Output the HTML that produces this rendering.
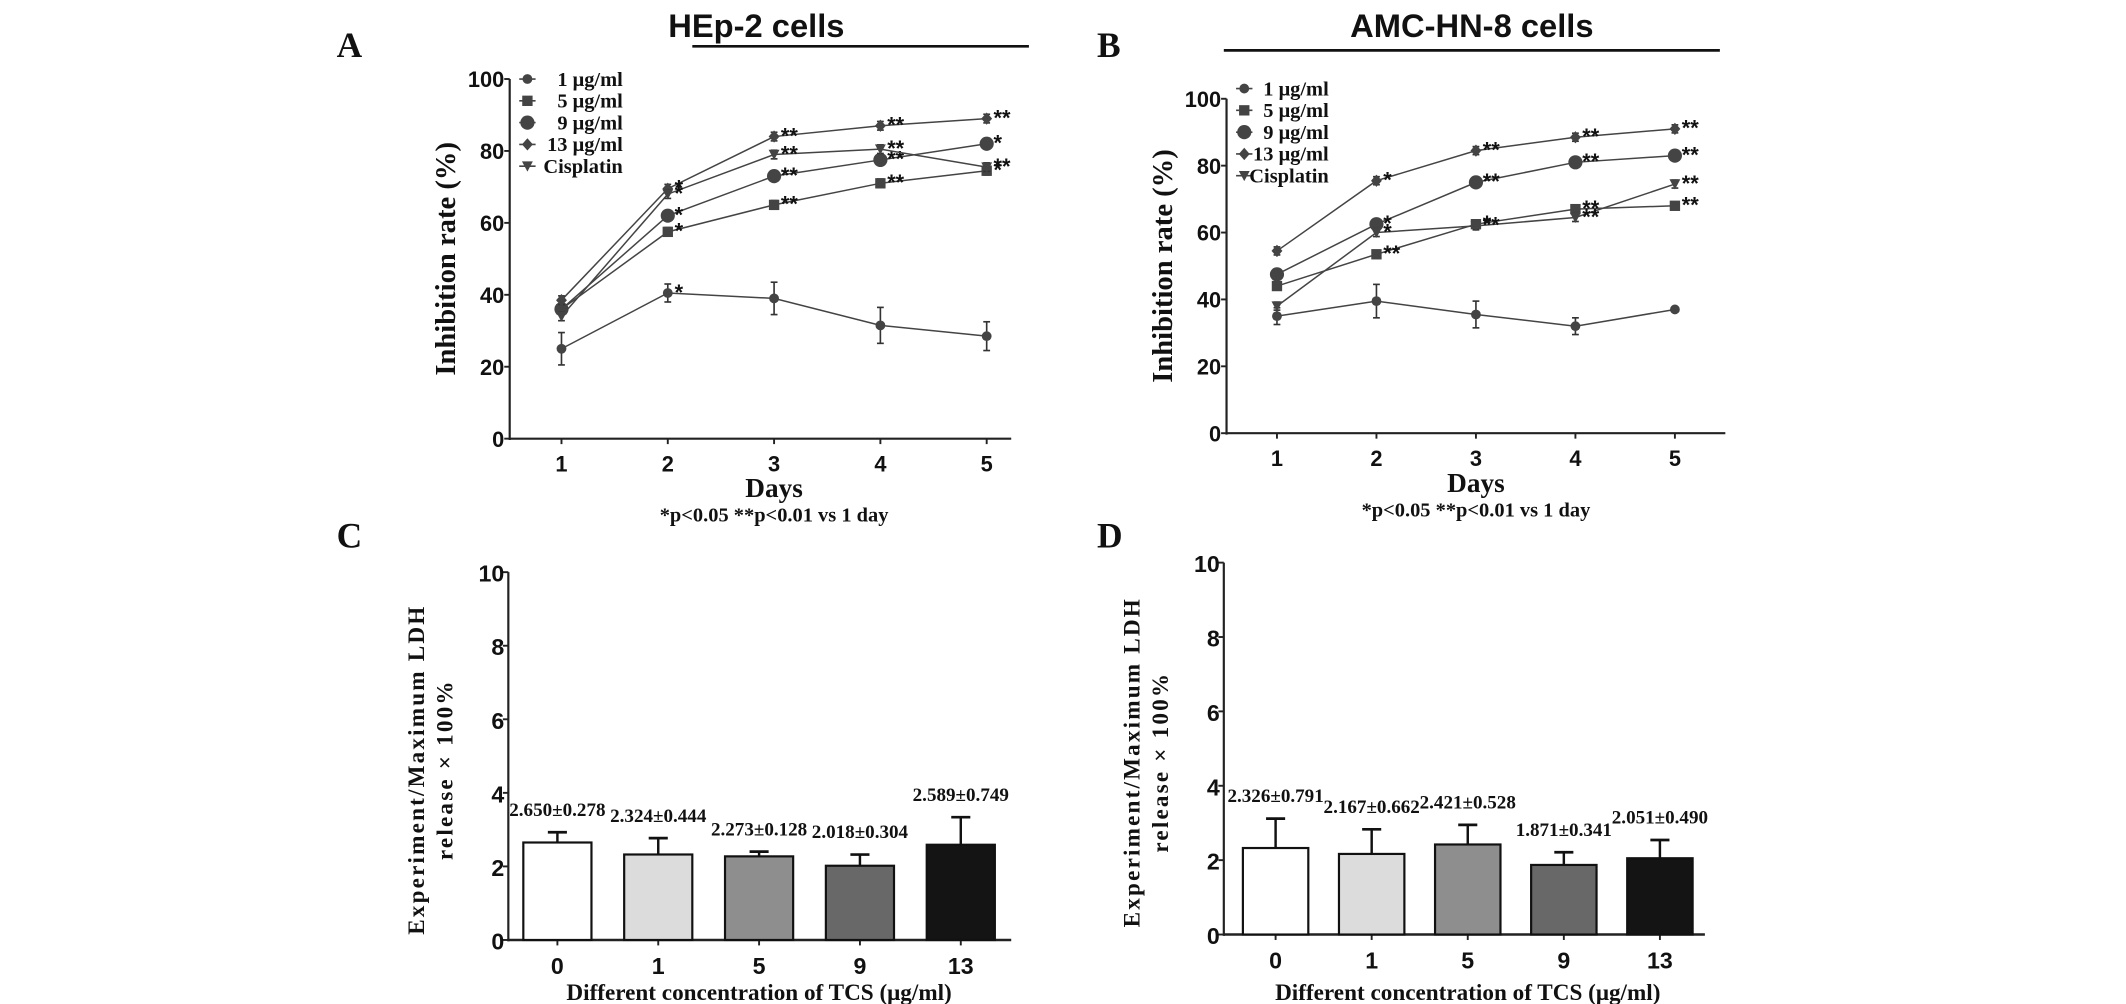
<!DOCTYPE html>
<html><head><meta charset="utf-8">
<style>
html,body{margin:0;padding:0;background:#fff;}
svg{display:block;}
text{font-family:"Liberation Serif",serif;font-weight:bold;fill:#111;}
.sans{font-family:"Liberation Sans",sans-serif;}
</style></head>
<body>
<svg id="fig" width="2126" height="1004" viewBox="0 0 1560 737" preserveAspectRatio="none" xmlns="http://www.w3.org/2000/svg"></svg>
<script>
// ---- Data ----
const days = [1, 2, 3, 4, 5];
const seriesNames = ["1 μg/ml", "5 μg/ml", "9 μg/ml", "13 μg/ml", "Cisplatin"];
const yTicksLine = [0, 20, 40, 60, 80, 100];
// Panel A (HEp-2)
const a1 = [25, 40.5, 39, 31.5, 28.5];
const a1err = [4.5, 2.5, 4.5, 5, 4];
const a5 = [36, 57.5, 65, 71, 74.5];
const a9 = [36, 62, 73, 77.5, 82];
const a13 = [38.5, 69.5, 84, 87, 89];
const aCis = [34, 68, 79, 80.5, 75.5];
const aStars1 = ["", "*", "", "", ""];
const aStars5 = ["", "*", "**", "**", "*"];
const aStars9 = ["", "*", "**", "**", "*"];
const aStars13 = ["", "*", "**", "**", "**"];
const aStarsCis = ["", "*", "**", "**", "**"];
// Panel B (AMC-HN-8)
const b1 = [35, 39.5, 35.5, 32, 37];
const b1err = [2.5, 5, 4, 2.5, 0];
const b5 = [44, 53.5, 62.5, 67, 68];
const b9 = [47.5, 62.5, 75, 81, 83];
const b13 = [54.5, 75.5, 84.5, 88.5, 91];
const bCis = [38, 60, 62, 64.5, 74.5];
const bStars1 = ["", "", "", "", ""];
const bStars5 = ["", "**", "*", "**", "**"];
const bStars9 = ["", "*", "**", "**", "**"];
const bStars13 = ["", "*", "**", "**", "**"];
const bStarsCis = ["", "*", "**", "**", "**"];
// Bars
const concs = ["0", "1", "5", "9", "13"];
const yTicksBar = [0, 2, 4, 6, 8, 10];
const cVals = [2.650, 2.324, 2.273, 2.018, 2.589];
const cErr = [0.278, 0.444, 0.128, 0.304, 0.749];
const dVals = [2.326, 2.167, 2.421, 1.871, 2.051];
const dErr = [0.791, 0.662, 0.528, 0.341, 0.490];
const barFills = ["#ffffff", "#dcdcdc", "#8e8e8e", "#686868", "#141414"];

const svg = document.getElementById('fig');
const NS = "http://www.w3.org/2000/svg";
function mk(tag, attrs, parent) {
  const e = document.createElementNS(NS, tag);
  for (const k in attrs) e.setAttribute(k, attrs[k]);
  (parent || svg).appendChild(e);
  return e;
}
function txt(s, x, y, size, anchor, parent, cls) {
  const t = mk('text', {x: x, y: y, 'font-size': size, 'text-anchor': anchor || 'middle'}, parent);
  if (cls) t.setAttribute('class', cls);
  t.textContent = s;
  return t;
}
function marker(kind, x, y, g) {
  const c = '#444';
  if (kind === 0) return mk('circle', {cx: x, cy: y, r: 3.6, fill: c}, g);
  if (kind === 1) return mk('rect', {x: x - 3.8, y: y - 3.8, width: 7.6, height: 7.6, fill: c}, g);
  if (kind === 2) return mk('circle', {cx: x, cy: y, r: 5.2, fill: c}, g);
  if (kind === 3) return mk('polygon', {points: `${x},${y-4.5} ${x+4},${y} ${x},${y+4.5} ${x-4},${y}`, fill: c}, g);
  return mk('polygon', {points: `${x-4},${y-3.5} ${x+4},${y-3.5} ${x},${y+4}`, fill: c}, g);
}

function linePanel(cfg) {
  const g = mk('g', {});
  
  
  const sx = d => cfg.x1 + (d - 1) * (cfg.x5 - cfg.x1) / 4;
  const sy = v => cfg.y0 - v * (cfg.y0 - cfg.y100) / 100;
  const L = txt(cfg.letter, cfg.letterX, 42, 26, 'start', g);
  
  
  const T = txt(cfg.title, cfg.titleX, 27, 24, 'middle', g, 'sans');
  
  
  T.setAttribute('font-weight', 'normal');
  mk('line', {x1: cfg.lineX1, x2: cfg.lineX2, y1: cfg.lineY, y2: cfg.lineY, stroke: '#111', 'stroke-width': 2}, g);
  const ax = mk('g', {}, g);
  
  
  mk('line', {x1: cfg.ax, x2: cfg.ax, y1: sy(100), y2: sy(0) + 1, stroke: '#222', 'stroke-width': 1.6}, ax);
  mk('line', {x1: cfg.ax, x2: cfg.axEnd, y1: sy(0), y2: sy(0), stroke: '#222', 'stroke-width': 1.6}, ax);
  yTicksLine.forEach(v => {
    mk('line', {x1: cfg.ax - 4, x2: cfg.ax, y1: sy(v), y2: sy(v), stroke: '#222', 'stroke-width': 1.4}, ax);
    const t = txt(String(v), cfg.ax - 4, sy(v) + 6, 16, 'end', ax, 'sans');
    
    
  });
  days.forEach(d => {
    mk('line', {x1: sx(d), x2: sx(d), y1: sy(0), y2: sy(0) + 4, stroke: '#222', 'stroke-width': 1.4}, ax);
    const t = txt(String(d), sx(d), sy(0) + 24, 16, 'middle', ax, 'sans');
    
    
  });
  const yl = txt('Inhibition rate (%)', 0, 0, 21, 'middle', g);
  yl.setAttribute('transform', `translate(${cfg.ax - 40},${(sy(0) + sy(100)) / 2}) rotate(-90)`);
  
  
  const xl = txt('Days', sx(3), sy(0) + 43, 20, 'middle', g);
  
  
  const fn = txt('*p<0.05  **p<0.01 vs 1 day', sx(3), sy(0) + 61, 15, 'middle', g);
  
  
  fn.setAttribute('xml:space', 'preserve');
  cfg.series.forEach((s, i) => {
    const sg = mk('g', {}, g);
    
    
    const pts = s.map((v, j) => sx(days[j]) + ',' + sy(v)).join(' ');
    mk('polyline', {points: pts, fill: 'none', stroke: '#444', 'stroke-width': 1.1}, sg);
    s.forEach((v, j) => {
      const e = cfg.errs[i] ? cfg.errs[i][j] : 1.2;
      if (e > 0) {
        mk('line', {x1: sx(days[j]), x2: sx(days[j]), y1: sy(v - e), y2: sy(v + e), stroke: '#333', 'stroke-width': 1.2}, sg);
        mk('line', {x1: sx(days[j]) - 2.5, x2: sx(days[j]) + 2.5, y1: sy(v - e), y2: sy(v - e), stroke: '#333', 'stroke-width': 1.2}, sg);
        mk('line', {x1: sx(days[j]) - 2.5, x2: sx(days[j]) + 2.5, y1: sy(v + e), y2: sy(v + e), stroke: '#333', 'stroke-width': 1.2}, sg);
      }
      const m = marker(i, sx(days[j]), sy(v), sg);
      
      
      const st = cfg.stars[i][j];
      if (st) txt(st, sx(days[j]) + 5, sy(v) + 5, 16, 'start', sg, 'sans');
    });
  });
  const lg = mk('g', {}, g);
  
  
  seriesNames.forEach((n, i) => {
    const y = cfg.legY + i * 16;
    mk('line', {x1: cfg.legMx - 6, x2: cfg.legMx + 6, y1: y, y2: y, stroke: '#444', 'stroke-width': 1.2}, lg);
    marker(i, cfg.legMx, y, lg);
    const t = txt(n, cfg.legTx, y + 5, 15, 'end', lg);
    
    
  });
}

linePanel({name: 'panel-a-hep2', letter: 'A', letterX: 247, title: 'HEp-2 cells', titleX: 555,
  lineX1: 508, lineX2: 755, lineY: 34, ax: 374, axEnd: 742, x1: 412, x5: 724, y0: 322, y100: 58,
  series: [a1, a5, a9, a13, aCis], errs: [a1err, null, null, null, null],
  stars: [aStars1, aStars5, aStars9, aStars13, aStarsCis], legY: 58, legMx: 387, legTx: 457});
linePanel({name: 'panel-b-amc-hn8', letter: 'B', letterX: 805, title: 'AMC-HN-8 cells', titleX: 1080,
  lineX1: 898, lineX2: 1262, lineY: 37, ax: 900, axEnd: 1266, x1: 937, x5: 1229, y0: 318, y100: 72.5,
  series: [b1, b5, b9, b13, bCis], errs: [b1err, null, null, null, null],
  stars: [bStars1, bStars5, bStars9, bStars13, bStarsCis], legY: 65, legMx: 913, legTx: 975});

function barPanel(cfg) {
  const g = mk('g', {});
  
  
  const sy = v => cfg.y0 - v * (cfg.y0 - cfg.y10) / 10;
  const sx = i => cfg.c0 + i * cfg.step;
  const L = txt(cfg.letter, cfg.letterX, 402, 26, 'start', g);
  
  
  const ax = mk('g', {}, g);
  
  
  yTicksBar.forEach(v => {
    mk('line', {x1: cfg.ax - 4, x2: cfg.ax, y1: sy(v), y2: sy(v), stroke: '#222', 'stroke-width': 1.4}, ax);
    const t = txt(String(v), cfg.ax - 3, sy(v) + 7, 17, 'end', ax, 'sans');
    
    
  });
  concs.forEach((c, i) => {
    const x = sx(i), v = cfg.vals[i], e = cfg.errs[i];
    const b = mk('rect', {x: x - cfg.bw / 2, y: sy(v), width: cfg.bw, height: sy(0) - sy(v), fill: barFills[i], stroke: '#111', 'stroke-width': 1.6}, g);
    
    
    mk('line', {x1: x, x2: x, y1: sy(v), y2: sy(v + e), stroke: '#111', 'stroke-width': 1.8}, g);
    mk('line', {x1: x - 7, x2: x + 7, y1: sy(v + e), y2: sy(v + e), stroke: '#111', 'stroke-width': 2}, g);
    const lab = txt(v.toFixed(3) + '±' + e.toFixed(3), x, sy(v + e) - 12, 14, 'middle', g);
    
    
    mk('line', {x1: x, x2: x, y1: sy(0), y2: sy(0) + 4, stroke: '#222', 'stroke-width': 1.4}, ax);
    const t = txt(c, x, sy(0) + 25, 17, 'middle', ax, 'sans');
    
    
  });
  mk('line', {x1: cfg.ax, x2: cfg.ax, y1: sy(10), y2: sy(0) + 1, stroke: '#222', 'stroke-width': 1.6}, ax);
  mk('line', {x1: cfg.ax, x2: cfg.axEnd, y1: sy(0), y2: sy(0), stroke: '#222', 'stroke-width': 1.8}, ax);
  const cy = (sy(0) + sy(10)) / 2 + 10;
  const y1 = txt('Experiment/Maximum LDH', 0, 0, 17, 'middle', g);
  y1.setAttribute('transform', `translate(${cfg.ax - 62},${cy}) rotate(-90)`);
  
  
  y1.setAttribute('letter-spacing', '1.6');
  const y2 = txt('release × 100%', 0, 0, 17, 'middle', g);
  y2.setAttribute('transform', `translate(${cfg.ax - 41},${cy}) rotate(-90)`);
  
  
  y2.setAttribute('letter-spacing', '1.6');
  const xl = txt('Different concentration of TCS (μg/ml)', sx(2), 734, 17, 'middle', g);
  
  
}
barPanel({name: 'panel-c-ldh-hep2', letter: 'C', letterX: 247, ax: 373, axEnd: 742, y0: 690, y10: 420,
  c0: 409, step: 74, bw: 50, vals: cVals, errs: cErr});
barPanel({name: 'panel-d-ldh-amc', letter: 'D', letterX: 805, ax: 898, axEnd: 1251, y0: 686, y10: 413,
  c0: 936, step: 70.5, bw: 48, vals: dVals, errs: dErr});
</script>
</body></html>
